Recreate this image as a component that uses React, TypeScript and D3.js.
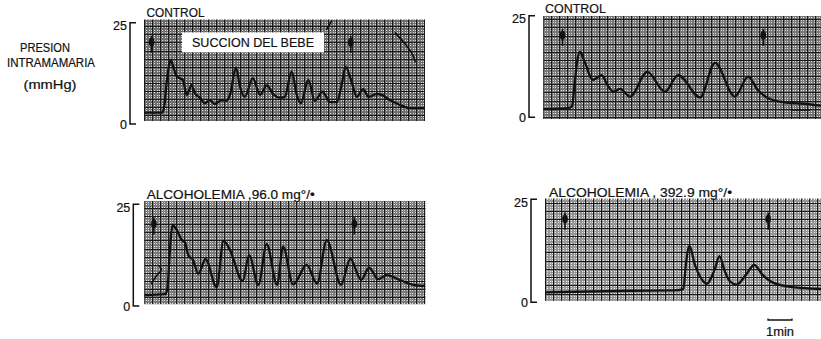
import React from "react";
import * as d3 from "d3";

// Intramammary pressure recordings: [time (s), pressure (mmHg)]
const controlA: [number, number][] = [
  [0, 2.8], [45, 2.8], [50, 4.0], [57, 10.5], [63, 14.6], [67, 15.8], [72, 14.5],
  [82, 11.7], [90, 11.3], [97, 10.9], [107, 7.2], [119, 9.6], [127, 7.6], [140, 6.5],
  [152, 5.1], [165, 5.9], [177, 4.9], [194, 5.9], [205, 5.7], [215, 7.2], [230, 13.9],
  [240, 9.2], [252, 6.7], [272, 11.3], [290, 7.2], [307, 9.5], [323, 7.4], [340, 6.5],
  [352, 6.7], [369, 12.9], [382, 7.2], [392, 5.1], [411, 10.9], [427, 5.7], [446, 8.0],
  [465, 5.4], [482, 5.4], [494, 9.6], [504, 14.1], [519, 10.4], [532, 6.7], [548, 8.6],
  [561, 6.7], [582, 7.4], [594, 7.2], [615, 5.9], [640, 4.7], [665, 3.9], [702, 3.9],
];

const controlB: [number, number][] = [
  [0, 2.0], [40, 2.1], [67, 2.4], [72, 2.8], [78, 8.0], [85, 14.0], [92, 16.1],
  [100, 14.5], [108, 12.5], [116, 10.3], [125, 9.2], [146, 10.4], [160, 8.0],
  [175, 6.3], [192, 7.0], [217, 5.1], [260, 11.2], [304, 6.3], [337, 10.4],
  [392, 4.9], [429, 13.4], [479, 5.1], [512, 10.0], [537, 6.6], [559, 4.9],
  [602, 3.7], [642, 3.4], [700, 2.8],
];

const alcohol96: [number, number][] = [
  [0, 2.7], [52, 2.9], [58, 4.5], [63, 12.0], [67, 17.5], [71, 19.9], [81, 18.7],
  [94, 16.2], [102, 15.6], [110, 12.5], [122, 11.3], [135, 7.9], [153, 11.5],
  [181, 4.6], [198, 16.0], [214, 13.8], [246, 6.1], [262, 12.5], [285, 5.2],
  [306, 15.2], [332, 5.2], [347, 14.6], [372, 5.3], [406, 10.1], [432, 5.5],
  [456, 16.2], [492, 5.2], [515, 11.6], [542, 6.4], [562, 9.4], [585, 6.6],
  [606, 7.6], [639, 6.4], [672, 5.2], [703, 4.9],
];

const alcohol393: [number, number][] = [
  [0, 2.4], [212, 2.8], [325, 2.9], [346, 3.2], [352, 9.0], [361, 13.7], [375, 9.0],
  [388, 6.2], [404, 4.5], [425, 8.2], [436, 11.2], [450, 7.4], [462, 5.1], [479, 4.3],
  [504, 6.9], [523, 9.1], [542, 6.9], [567, 4.9], [617, 3.7], [700, 3.2],
];

// Start and end of the baby's suckling (s)
const suckMarksA = [19, 517];
const suckMarksB = [48, 550];
const suckMarks96 = [24, 525];
const suckMarks393 = [50, 558];

// Stray pen strokes on the chart paper: [time (s), pressure (mmHg)]
const penStrokesA: [number, number][][] = [
  [[457, 23.4], [469, 25.4]],
  [[628, 22.5], [655, 19.5], [672, 17.0], [678, 15.4]],
];
const penStrokesB: [number, number][][] = [[[620, 1.8], [666, 1.8]]];
const penStrokes96: [number, number][][] = [
  [[18, 5.5], [31, 7.5], [43, 8.9], [38, 9.7]],
];

const yTickLabels = ["0", "25"];
const yLabelLines = ["PRESION", "INTRAMAMARIA", "(mmHg)"];
const scaleBarLabel = "1min";
const suckLabel = "SUCCION DEL BEBE";

const SEC_PER_MIN = 60;
const PX_PER_MIN = 24;
const FONT = "'Liberation Sans', Arial, Helvetica, sans-serif";

type Panel = {
  title: string;
  titleX: number;
  titleY: number;
  titleW: number;
  data: [number, number][];
  marks: number[];
  strokes: [number, number][][];
  bracketX: number;
  yTop: number;
  yBot: number;
  gx0: number;
  span: number;
  pTop: number;
  pBot: number;
  paper: string;
  fine: string;
};

const panels: Panel[] = [
  { title: "CONTROL", titleX: 146.5, titleY: 17.3, titleW: 58, data: controlA, marks: suckMarksA, strokes: penStrokesA,
    bracketX: 130, yTop: 22.7, yBot: 124, gx0: 144, span: 703, pTop: 25.8, pBot: 0.7, paper: "#dcdcdc", fine: "#6e6e6e" },
  { title: "CONTROL", titleX: 545, titleY: 13.3, titleW: 61, data: controlB, marks: suckMarksB, strokes: penStrokesB,
    bracketX: 529, yTop: 15.7, yBot: 117.3, gx0: 543.3, span: 720, pTop: 25, pBot: -0.4, paper: "#e0e0e0", fine: "#767676" },
  { title: "ALCOHOLEMIA ,96.0 mg°/•", titleX: 146.7, titleY: 199.3, titleW: 168, data: alcohol96, marks: suckMarks96, strokes: penStrokes96,
    bracketX: 133.3, yTop: 204.3, yBot: 306, gx0: 144.3, span: 703, pTop: 25.9, pBot: 0.4, paper: "#e2e2e2", fine: "#7a7a7a" },
  { title: "ALCOHOLEMIA , 392.9 mg°/•", titleX: 549, titleY: 196.7, titleW: 183, data: alcohol393, marks: suckMarks393, strokes: [],
    bracketX: 531, yTop: 199.3, yBot: 302.3, gx0: 545, span: 720, pTop: 25.2, pBot: 0.4, paper: "#ececec", fine: "#969696" },
];

const textStyle = {
  fontFamily: FONT,
  fill: "#111",
  stroke: "#111",
  strokeWidth: 0.2,
};

function TracePanel({ p, idx }: { p: Panel; idx: number }) {
  const x = d3.scaleLinear().domain([0, SEC_PER_MIN]).range([p.gx0, p.gx0 + PX_PER_MIN]);
  const y = d3.scaleLinear().domain([0, 25]).range([p.yBot, p.yTop]);
  const gx1 = x(p.span);
  const gy0 = y(p.pTop);
  const gy1 = y(p.pBot);

  const vLines = d3.range(0, Math.floor(p.span / 4) + 1).map((k) => ({ v: k * 4, major: k % 5 === 0 }));
  const hLines = d3
    .range(Math.ceil(p.pBot / 0.4), Math.floor(p.pTop / 0.4) + 1)
    .map((k) => ({ v: k * 0.4, major: k % 5 === 0 }));

  const line = d3
    .line<[number, number]>()
    .x((d) => x(d[0]))
    .y((d) => y(d[1]))
    .curve(d3.curveMonotoneX);
  const strokeLine = d3
    .line<[number, number]>()
    .x((d) => x(d[0]))
    .y((d) => y(d[1]))
    .curve(d3.curveCatmullRom);

  const clipId = `paper-${idx}`;
  return (
    <g>
      <defs>
        <clipPath id={clipId}>
          <rect x={p.gx0} y={gy0} width={gx1 - p.gx0} height={gy1 - gy0} />
        </clipPath>
      </defs>
      <g clipPath={`url(#${clipId})`}>
        <rect x={p.gx0} y={gy0} width={gx1 - p.gx0} height={gy1 - gy0} fill={p.paper} />
        <g shapeRendering="crispEdges">
          {vLines.filter((l) => !l.major).map((l) => (
            <line key={`vf${l.v}`} x1={x(l.v)} x2={x(l.v)} y1={gy0} y2={gy1} stroke={p.fine} strokeWidth={1} />
          ))}
          {hLines.filter((l) => !l.major).map((l) => (
            <line key={`hf${l.v}`} x1={p.gx0} x2={gx1} y1={y(l.v)} y2={y(l.v)} stroke={p.fine} strokeWidth={1} />
          ))}
          {vLines.filter((l) => l.major).map((l) => (
            <line key={`vm${l.v}`} x1={x(l.v)} x2={x(l.v)} y1={gy0} y2={gy1} stroke="#1a1a1a" strokeWidth={1} />
          ))}
          {hLines.filter((l) => l.major).map((l) => (
            <line key={`hm${l.v}`} x1={p.gx0} x2={gx1} y1={y(l.v)} y2={y(l.v)} stroke="#1a1a1a" strokeWidth={1} />
          ))}
        </g>
        {p.strokes.map((s, i) => (
          <path key={`s${i}`} d={strokeLine(s) ?? ""} fill="none" stroke="#111" strokeWidth={1.6} strokeLinecap="round" />
        ))}
        {p.marks.map((t) => (
          <g key={`m${t}`}>
            <line x1={x(t)} x2={x(t)} y1={y(21.8)} y2={y(17.6)} stroke="#111" strokeWidth={1.6} />
            <ellipse cx={x(t)} cy={y(20.2)} rx={2.8} ry={4.4} fill="#111" />
          </g>
        ))}
        <path d={line(p.data) ?? ""} fill="none" stroke="#111" strokeWidth={2.3} strokeLinejoin="round" />
      </g>

      {/* bracket axis with end values */}
      <path
        d={`M${p.bracketX + 6},${p.yTop}H${p.bracketX}V${p.yBot}H${p.bracketX + 6}`}
        fill="none"
        stroke="#111"
        strokeWidth={1.5}
      />
      <text x={p.bracketX - 3} y={p.yTop + 7.5} textAnchor="end" fontSize={12.5} {...textStyle}>
        {yTickLabels[1]}
      </text>
      <text x={p.bracketX - 3} y={p.yBot + 5} textAnchor="end" fontSize={12.5} {...textStyle}>
        {yTickLabels[0]}
      </text>

      <text x={p.titleX} y={p.titleY} fontSize={12.5} {...textStyle} textLength={p.titleW} lengthAdjust="spacingAndGlyphs">
        {p.title}
      </text>
    </g>
  );
}

export default function App() {
  const p4 = panels[3];
  const x4 = d3.scaleLinear().domain([0, SEC_PER_MIN]).range([p4.gx0, p4.gx0 + PX_PER_MIN]);
  const barStart = 557.5;
  const bx0 = x4(barStart);
  const bx1 = x4(barStart + SEC_PER_MIN);
  const pA = panels[0];
  const xA = d3.scaleLinear().domain([0, SEC_PER_MIN]).range([pA.gx0, pA.gx0 + PX_PER_MIN]);
  const yA = d3.scaleLinear().domain([0, 25]).range([pA.yBot, pA.yTop]);

  return (
    <svg
      width={821}
      height={339}
      viewBox="0 0 821 339"
      style={{ position: "absolute", left: 0, top: 0, background: "#fff" }}
    >
      <rect width={821} height={339} fill="#fff" />
      {panels.map((p, i) => (
        <TracePanel key={i} p={p} idx={i} />
      ))}

      {/* suckling label box on the first record */}
      <rect x={xA(95)} y={yA(22.6)} width={xA(450) - xA(95)} height={yA(17.7) - yA(22.6)} fill="#fff" />
      <text
        x={(xA(95) + xA(450)) / 2}
        y={yA(18.9)}
        textAnchor="middle"
        fontSize={13.5}
        {...textStyle}
        textLength={122}
        lengthAdjust="spacingAndGlyphs"
      >
        {suckLabel}
      </text>

      {/* y-axis title */}
      <text x={45} y={52} textAnchor="middle" fontSize={12.5} {...textStyle} textLength={50} lengthAdjust="spacingAndGlyphs">
        {yLabelLines[0]}
      </text>
      <text x={51} y={67} textAnchor="middle" fontSize={12.5} {...textStyle} textLength={88} lengthAdjust="spacingAndGlyphs">
        {yLabelLines[1]}
      </text>
      <text x={50} y={89} textAnchor="middle" fontSize={12.5} {...textStyle} textLength={53} lengthAdjust="spacingAndGlyphs">
        {yLabelLines[2]}
      </text>

      {/* time scale bar */}
      <path d={`M${bx0},318.5V320H${bx1}V318.5`} fill="none" stroke="#111" strokeWidth={1.3} />
      <text x={(bx0 + bx1) / 2} y={335.5} textAnchor="middle" fontSize={12} {...textStyle} textLength={28} lengthAdjust="spacingAndGlyphs">
        {scaleBarLabel}
      </text>
    </svg>
  );
}
